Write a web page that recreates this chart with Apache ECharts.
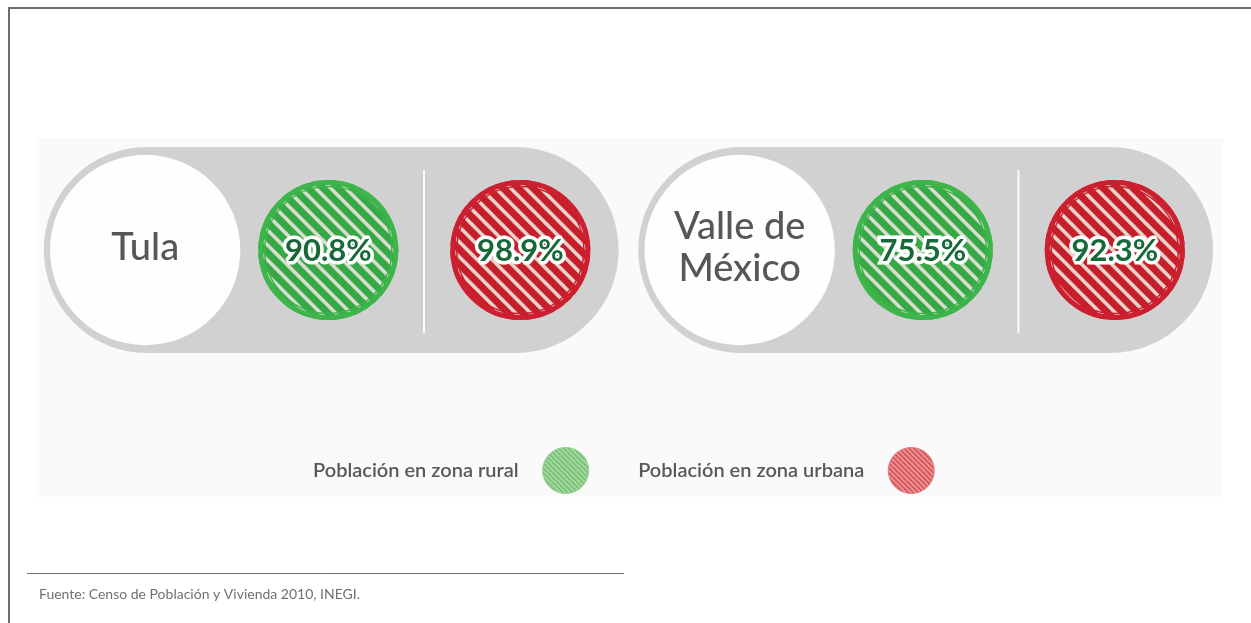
<!DOCTYPE html>
<html><head><meta charset="utf-8">
<script src="https://cdn.jsdelivr.net/npm/echarts@6/dist/echarts.min.js"></script>
<style>html,body{margin:0;padding:0;background:#fff}#c{width:1251px;height:623px}</style>
</head><body><div id="c"></div>
<script>
// ---- data ----
const regions = ['Tula', 'Valle de\nMéxico'];
const ruralPct = [90.8, 75.5];
const urbanPct = [98.9, 92.3];
const seriesNames = ['Población en zona rural', 'Población en zona urbana'];
const sourceText = 'Fuente: Censo de Población y Vivienda 2010, INEGI.';

// ---- hatch patterns ----
function hatch(size, lw, fg, bg) {
  const c = document.createElement('canvas');
  c.width = c.height = size;
  const g = c.getContext('2d');
  g.fillStyle = bg; g.fillRect(0, 0, size, size);
  g.strokeStyle = fg; g.lineWidth = lw; g.lineCap = 'square';
  for (let k = -size; k <= size; k += size) {
    g.beginPath(); g.moveTo(k, 0); g.lineTo(k + size, size); g.stroke();
  }
  return c;
}
const greenPat = {image: hatch(15, 7, '#36a846', '#d9ddcf'), repeat: 'repeat'};
const redPat = {image: hatch(15, 7, '#c61f2c', '#e8d3cb'), repeat: 'repeat'};
const greenPatSm = {image: hatch(5, 2.2, '#72c070', '#bfe2b8'), repeat: 'repeat'};
const redPatSm = {image: hatch(5, 2.2, '#d84c53', '#f0b7b3'), repeat: 'repeat'};

const chart = echarts.init(document.getElementById('c'), null, {renderer: 'canvas'});

function badge(cx, cy, r, pat, ring, inner, txt) {
  return [
    {type: 'circle', shape: {cx, cy, r}, style: {fill: pat}},
    {type: 'circle', shape: {cx, cy, r: r - 2.5}, style: {fill: null, stroke: ring, lineWidth: 5}},
    {type: 'circle', shape: {cx, cy, r: r - 6.5}, style: {fill: null, stroke: inner, lineWidth: 1.5}},
    {type: 'text', style: {text: txt, x: cx, y: cy + 1, align: 'center', verticalAlign: 'middle',
      font: 'bold 31px Lato', fill: '#17693a', stroke: '#ffffff', lineWidth: 7, lineJoin: 'round'}}
  ];
}

const option = {
  animation: false,
  backgroundColor: '#ffffff',
  grid: {left: 34, right: 28, top: 147, height: 206},
  xAxis: {type: 'category', data: regions, show: false},
  yAxis: {type: 'category', data: [''], show: false},
  legend: {
    left: 308, top: 442, align: 'right', orient: 'horizontal',
    itemWidth: 46, itemHeight: 46, itemGap: 49, selectedMode: false,
    textStyle: {fontFamily: 'Lato', fontSize: 20, fontWeight: 600, color: '#595959', padding: [0, 19, 0, 0]},
    data: [
      {name: seriesNames[0], icon: 'circle', itemStyle: {color: greenPatSm, borderColor: '#8fcf8c', borderWidth: 1}},
      {name: seriesNames[1], icon: 'circle', itemStyle: {color: redPatSm, borderColor: '#e07a7e', borderWidth: 1}}
    ]
  },
  graphic: [
    {type: 'rect', z: -10, shape: {x: 36, y: 138, width: 1187, height: 359}, style: {fill: '#fafafa'}},
    {type: 'line', shape: {x1: 8, y1: 8, x2: 1251, y2: 8}, style: {stroke: '#6d6d6d', lineWidth: 2}},
    {type: 'line', shape: {x1: 9, y1: 8, x2: 9, y2: 623}, style: {stroke: '#6d6d6d', lineWidth: 2}},
    {type: 'line', shape: {x1: 27, y1: 573.5, x2: 624, y2: 573.5}, style: {stroke: '#6e6e6e', lineWidth: 1}},
    {type: 'text', left: 39, top: 587, style: {text: sourceText, font: '14px Lato', fill: '#707070'}}
  ],
  series: [
    {
      type: 'custom', name: 'base', z: 1,
      data: regions.map((r, i) => [i, 0]),
      renderItem(params, api) {
        const i = api.value(0);
        const c = api.coord([i, 0]);
        const band = api.size([1, 0])[0];
        const h = api.size([0, 1])[1];
        const wx = c[0] - 0.313 * band;
        const dx = c[0] + 0.156 * band;
        return {type: 'group', children: [
          {type: 'rect', shape: {x: c[0] - 0.4836 * band, y: c[1] - h / 2, width: 0.967 * band, height: h, r: h / 2},
            style: {fill: '#d1d1d1'}},
          {type: 'circle', shape: {cx: wx, cy: c[1], r: 0.462 * h}, style: {fill: '#fefefe'}},
          {type: 'text', style: {text: regions[i], x: wx, y: c[1] - 2, align: 'center', verticalAlign: 'middle',
            font: '500 38px Lato', lineHeight: 42, fill: '#575757'}},
          {type: 'line', shape: {x1: dx, y1: c[1] - 80, x2: dx, y2: c[1] + 83}, style: {stroke: '#fbfbfb', lineWidth: 2}}
        ]};
      }
    },
    {
      type: 'custom', name: seriesNames[0], z: 2,
      itemStyle: {color: greenPatSm},
      data: ruralPct.map((v, i) => [i, v]),
      renderItem(params, api) {
        const i = api.value(0);
        const c = api.coord([i, 0]);
        const band = api.size([1, 0])[0];
        const h = api.size([0, 1])[1];
        return {type: 'group', children: badge(c[0] - 0.005 * band, c[1], 0.34 * h, greenPat, '#3db54a', '#3db54a',
          api.value(1).toFixed(1) + '%')};
      }
    },
    {
      type: 'custom', name: seriesNames[1], z: 2,
      itemStyle: {color: redPatSm},
      data: urbanPct.map((v, i) => [i, v]),
      renderItem(params, api) {
        const i = api.value(0);
        const c = api.coord([i, 0]);
        const band = api.size([1, 0])[0];
        const h = api.size([0, 1])[1];
        return {type: 'group', children: badge(c[0] + 0.318 * band, c[1], 0.34 * h, redPat, '#cc2030', '#cc2030',
          api.value(1).toFixed(1) + '%')};
      }
    }
  ]
};
chart.setOption(option);
</script>
</body></html>
